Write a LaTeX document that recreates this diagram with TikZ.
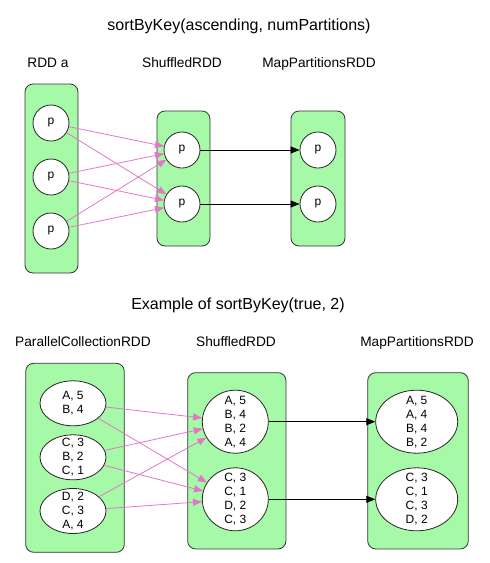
\documentclass[tikz,border=0pt]{standalone}
\usepackage{fontspec}
\setmainfont{Liberation Sans}
\usetikzlibrary{shapes.geometric,arrows.meta,positioning}
\definecolor{rddgreen}{RGB}{166,249,166}
\definecolor{shufpink}{RGB}{228,118,200}
\tikzset
{
    rddbox/.style     = {rectangle, rounded corners=8pt, draw=black!80, fill=rddgreen, line width=0.8pt, inner sep=0pt},
    partnode/.style   = {circle, draw=black!85, fill=white, line width=0.8pt, minimum size=36pt, inner sep=0pt, font=\fontsize{12}{14}\selectfont},
    recnode/.style    = {ellipse, draw=black!85, fill=white, line width=0.8pt, inner sep=0pt},
    reclabel/.style   = {align=center, inner sep=0pt, font=\fontsize{12}{14}\selectfont},
    rddlabel/.style   = {anchor=base, inner sep=0pt, font=\fontsize{13.7}{16}\selectfont},
    titlelabel/.style = {anchor=base, inner sep=0pt, font=\fontsize{16}{19}\selectfont},
    shuffledep/.style = {->, draw=shufpink, line width=0.8pt},
    narrowdep/.style  = {->, draw=black, line width=0.8pt}
}

\begin{document}
\begin{tikzpicture}[x=1pt, y=-1pt, >={Triangle[length=9pt,width=7pt]}]
\useasboundingbox (0,0) rectangle (490,563);

% sortByKey in general
\node (t1)	[titlelabel]	at (239,30)		{sortByKey(ascending, numPartitions)};
\node (l1)	[rddlabel]		at (48,67)		{RDD a};
\node (l2)	[rddlabel]		at (182,67)		{ShuffledRDD};
\node (l3)	[rddlabel]		at (319,67)		{MapPartitionsRDD};

\node (rA)	[rddbox, minimum width=53pt, minimum height=189pt]	at (51.5,178.5)	{};
\node (sA)	[rddbox, minimum width=53pt, minimum height=135pt]	at (183.5,178.5)	{};
\node (mA)	[rddbox, minimum width=54pt, minimum height=135pt]	at (318,178.5)	{};

\node (a1)	[partnode]	at (51,123)		{p};
\node (a2)	[partnode]	at (51,177)		{p};
\node (a3)	[partnode]	at (51,231)		{p};
\node (s1)	[partnode]	at (182,150)	{p};
\node (s2)	[partnode]	at (182,204)	{p};
\node (m1)	[partnode]	at (318,150)	{p};
\node (m2)	[partnode]	at (318,204)	{p};

\path
(a1)	edge[shuffledep]	(s1)
(a1)	edge[shuffledep]	(s2)
(a2)	edge[shuffledep]	(s1)
(a2)	edge[shuffledep]	(s2)
(a3)	edge[shuffledep]	(s1)
(a3)	edge[shuffledep]	(s2)
(s1)	edge[narrowdep]		(m1)
(s2)	edge[narrowdep]		(m2);

% example with true, 2
\node (t2)	[titlelabel]	at (238,309)	{Example of sortByKey(true, 2)};
\node (l4)	[rddlabel]		at (83,346.7)	{ParallelCollectionRDD};
\node (l5)	[rddlabel]		at (236,346.7)	{ShuffledRDD};
\node (l6)	[rddlabel]		at (417,346.7)	{MapPartitionsRDD};

\node (pB)	[rddbox, minimum width=98.6pt, minimum height=189pt]	at (75,457.8)	{};
\node (sB)	[rddbox, minimum width=98.3pt, minimum height=176.3pt]	at (236.8,460.8)	{};
\node (mB)	[rddbox, minimum width=100.6pt, minimum height=176.3pt]	at (418,460.8)	{};

\node (e1)	[recnode, minimum width=66pt, minimum height=45pt, label={[reclabel]center:{A, 5\\B, 4}}]			at (73,403.3)		{};
\node (e2)	[recnode, minimum width=66pt, minimum height=45pt, label={[reclabel]center:{C, 3\\B, 2\\C, 1}}]		at (73,457.3)		{};
\node (e3)	[recnode, minimum width=66pt, minimum height=45pt, label={[reclabel]center:{D, 2\\C, 3\\A, 4}}]		at (73,511)		{};
\node (f1)	[recnode, minimum width=66pt, minimum height=63pt, label={[reclabel]center:{A, 5\\B, 4\\B, 2\\A, 4}}]	at (235.3,421.7)	{};
\node (f2)	[recnode, minimum width=66pt, minimum height=63pt, label={[reclabel]center:{C, 3\\C, 1\\D, 2\\C, 3}}]	at (235.3,499.3)	{};
\node (g1)	[recnode, minimum width=82pt, minimum height=63pt, label={[reclabel]center:{A, 5\\A, 4\\B, 4\\B, 2}}]	at (416.7,421.7)	{};
\node (g2)	[recnode, minimum width=82pt, minimum height=63pt, label={[reclabel]center:{C, 3\\C, 1\\C, 3\\D, 2}}]	at (416.7,499.3)	{};

\path
(e1)	edge[shuffledep]	(f1)
(e1)	edge[shuffledep]	(f2)
(e2)	edge[shuffledep]	(f1)
(e2)	edge[shuffledep]	(f2)
(e3)	edge[shuffledep]	(f1)
(e3)	edge[shuffledep]	(f2)
(f1)	edge[narrowdep]		(g1)
(f2)	edge[narrowdep]		(g2);

\end{tikzpicture}
\end{document}
